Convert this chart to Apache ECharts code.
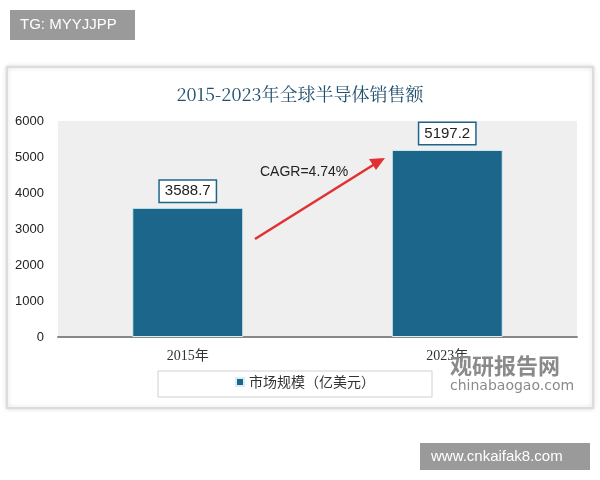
<!DOCTYPE html><html><head><meta charset="utf-8">
<script src="https://cdn.jsdelivr.net/npm/echarts@6/dist/echarts.min.js"></script>
<style>body{margin:0;background:#fff}#c{width:600px;height:480px}</style></head><body><div id="c"></div>
<script>
const categories=['2015年','2023年'];
const values=[3588.7,5197.2];
const seriesName='市场规模（亿美元）';
const title='2015-2023年全球半导体销售额';
const c=echarts.init(document.getElementById('c'));
c.setOption({
 animation:false,
 graphic:[
  {type:'rect',shape:{x:7,y:67,width:586,height:341},style:{fill:'#fff',stroke:'#dcdcdc',lineWidth:2,shadowBlur:4,shadowColor:'rgba(0,0,0,0.15)'},z:-10},
  {type:'rect',shape:{x:10,y:10,width:125,height:30},style:{fill:'#9a9a9a'}},
  {type:'text',x:20,y:17,style:{text:'TG: MYYJJPP',fill:'#fff',font:'15px "Liberation Sans"'}},
  {type:'rect',shape:{x:420,y:443,width:170,height:27},style:{fill:'#9a9a9a'}},
  {type:'text',x:431,y:449,style:{text:'www.cnkaifak8.com',fill:'#fff',font:'15px "Liberation Sans"'}},
  {type:'rect',shape:{x:158,y:371,width:274,height:26},style:{fill:'#fff',stroke:'#d0d0d0',lineWidth:1},z:-5},
  {type:'text',x:450,y:355,style:{text:'观研报告网',fill:'#8a8a8a',font:'bold 22px "Noto Sans CJK SC"'},z:20},
  {type:'text',x:450,y:379,style:{text:'chinabaogao.com',fill:'#8a8a8a',font:'14px "DejaVu Sans"'},z:20},
  {type:'line',shape:{x1:255,y1:239,x2:378,y2:162},style:{stroke:'#e03030',lineWidth:2.5},z:20},
  {type:'polygon',shape:{points:[[385,158],[369,159],[376,170]]},style:{fill:'#e03030'},z:20},
  {type:'text',x:260,y:165,style:{text:'CAGR=4.74%',fill:'#222',font:'14px "Liberation Sans"'},z:20}
 ],
 title:{text:title,left:'center',top:80,textStyle:{fontFamily:'"Noto Serif CJK SC","Noto Sans CJK SC",serif',fontSize:18,fontWeight:'normal',color:'#1f4e6e'}},
 legend:{bottom:86,left:230,itemWidth:8,itemHeight:8,icon:'rect',textStyle:{fontSize:14,color:'#333',fontFamily:'"Noto Sans CJK SC"'},data:[seriesName]},
 grid:{left:58,right:23,top:121,bottom:143,show:true,backgroundColor:'#efefef',borderWidth:0},
 xAxis:{type:'category',data:categories,axisTick:{show:false},axisLine:{lineStyle:{color:'#888',width:2}},axisLabel:{color:'#333',fontSize:14,margin:12,fontFamily:'"Liberation Serif","Noto Sans CJK SC"'}},
 yAxis:{type:'value',min:0,max:6000,interval:1000,splitLine:{show:false},axisLabel:{formatter:v=>String(v),color:'#222',fontSize:13,margin:14,fontFamily:'"Liberation Sans"'}},
 series:[{name:seriesName,type:'bar',data:values,barWidth:111,itemStyle:{color:'#1c668c',borderColor:'#d8eef0',borderWidth:1},
  label:{show:true,position:'top',distance:6,color:'#222',fontSize:15,fontFamily:'"Liberation Sans"',backgroundColor:'#fff',borderColor:'#1c668c',borderWidth:1.5,padding:[3,5]}}]
});
</script></body></html>
